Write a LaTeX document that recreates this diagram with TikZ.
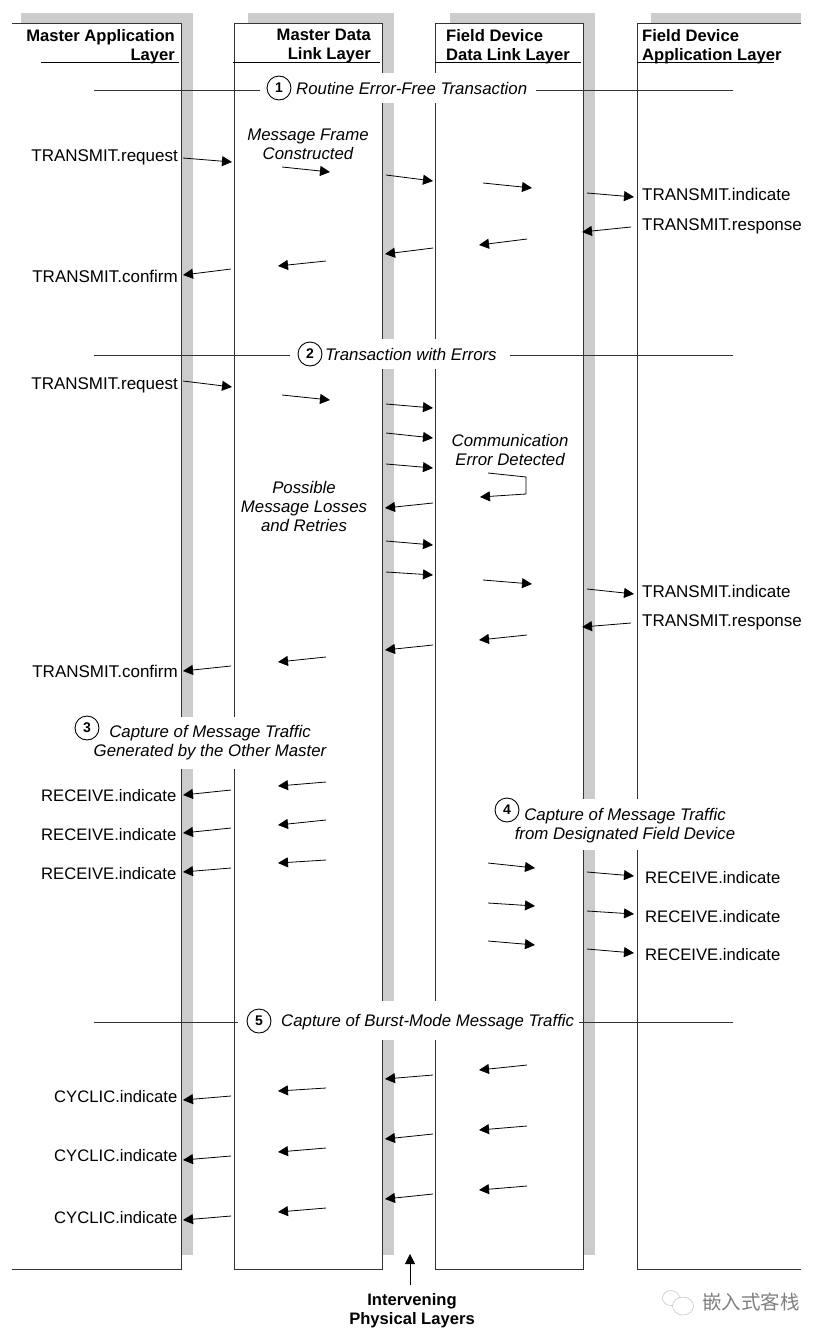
\documentclass[tikz,border=0pt]{standalone}
\usepackage{fontspec}
\setmainfont{Liberation Sans}
\newfontfamily\cjkfont{Noto Sans CJK SC}
\usetikzlibrary{arrows.meta}
\begin{document}
\begin{tikzpicture}[
  x=1pt, y=-1pt,
  band/.style={fill=black!20, draw=none},
  layerline/.style={line width=1pt, black!80},
  headline/.style={line width=1pt},
  secline/.style={line width=0.9pt, black!80},
  msg/.style={line width=0.8pt, -{Triangle[length=10pt,width=10pt]}},
  prim/.style={inner sep=0pt, text height=12pt, text depth=0pt, font=\fontsize{17}{19}\selectfont},
  primsm/.style={prim, font=\fontsize{16.65}{19}\selectfont},
  head/.style={inner sep=0pt, font=\fontsize{16.6}{19}\selectfont\bfseries},
  note/.style={inner sep=0pt, align=center, font=\fontsize{16.8}{19}\selectfont\itshape},
  num/.style={circle, draw, line width=0.9pt, fill=white, minimum size=24pt, inner sep=0pt, font=\fontsize{14}{14}\selectfont\bfseries}
]
  \useasboundingbox (0,0) rectangle (827,1338);

  % Grey bands behind the layers
  \fill[band] (21,13) rectangle (193,24);
  \fill[band] (181,24) rectangle (193,1255);
  \fill[band] (248,13) rectangle (394,24);
  \fill[band] (382,24) rectangle (394,1255);
  \fill[band] (450,13) rectangle (595,24);
  \fill[band] (583,24) rectangle (595,1255);
  \fill[band] (651,13) rectangle (801,24);

  % Layer outlines
  \draw[layerline] (12,24) -- (181,24) -- (181,1269) -- (12,1269);
  \draw[layerline] (234,1269) -- (234,24) -- (382,24) -- (382,1269) -- cycle;
  \draw[layerline] (435.5,1269) -- (435.5,24) -- (583,24) -- (583,1269) -- cycle;
  \draw[layerline] (801,24) -- (637,24) -- (637,1269) -- (801,1269);

  % Header rules
  \draw[headline] (41,63) -- (179,63);
  \draw[headline] (233,63) -- (380,63);
  \draw[headline] (435,63) -- (581,63);
  \draw[headline] (637,63) -- (774,63);

  \node[head, align=right, anchor=north east] (hma) at (175,29) {Master Application\\Layer};
  \node[head, align=right, anchor=north east] (hmd) at (371,29) {Master Data\\Link Layer};
  \node[head, align=left, anchor=north west] (hfd) at (446,29) {Field Device\\Data Link Layer};
  \node[head, align=left, anchor=north west] (hfa) at (642,29) {Field Device\\Application Layer};

  % Section rules
  \foreach \y [count=\i] in {90,355.5,1022} {
    \coordinate (sl\i) at (94,\y);
    \coordinate (sr\i) at (733,\y);
    \draw[secline] (sl\i) -- (sr\i);
  }

  % Gaps under the section titles
  \fill[white] (260,73) rectangle (536,103);
  \fill[white] (290,339) rectangle (510,369);
  \fill[white] (75,717) rectangle (330,769);
  \fill[white] (490,799) rectangle (745,850);
  \fill[white] (238,1001) rectangle (579,1040);

  % Section titles
  \node[num] (n1) at (279,88) {1};
  \node[note, anchor=west] (t1) at (296,88) {Routine Error-Free Transaction};
  \node[num] (n2) at (310,354) {2};
  \node[note, anchor=west] (t2) at (325,354) {Transaction with Errors};
  \node[num] (n3) at (87,728) {3};
  \node[note] (t3) at (210,743) {Capture of Message Traffic\\Generated by the Other Master};
  \node[num] (n4) at (507,810) {4};
  \node[note] (t4) at (625,825.5) {Capture of Message Traffic\\from Designated Field Device};
  \node[num] (n5) at (259,1021) {5};
  \node[note, anchor=west] (t5) at (281,1022) {Capture of Burst-Mode Message Traffic};

  % Remarks
  \node[note] (frame) at (308,144) {Message Frame\\Constructed};
  \node[note] (comm) at (510,450) {Communication\\Error Detected};
  \node[note] (loss) at (304,506.5) {Possible\\Message Losses\\and Retries};

  % Primitives on the left
  \foreach \y/\txt [count=\i] in {155/TRANSMIT.request, 276/TRANSMIT.confirm, 383/TRANSMIT.request, 671/TRANSMIT.confirm} {
    \node[prim, anchor=east] (lt\i) at (178,\y) {\txt};
  }
  \foreach \y [count=\i] in {795,834,873} {
    \node[primsm, anchor=east] (lr\i) at (176.5,\y) {RECEIVE.indicate};
  }
  \foreach \y [count=\i] in {1096,1155.5,1217} {
    \node[primsm, anchor=east] (lc\i) at (177.5,\y) {CYCLIC.indicate};
  }

  % Primitives on the right
  \foreach \y/\txt [count=\i] in {194.5/TRANSMIT.indicate, 224.5/TRANSMIT.response, 591/TRANSMIT.indicate, 620/TRANSMIT.response} {
    \node[prim, anchor=west] (rt\i) at (642,\y) {\txt};
  }
  \foreach \y [count=\i] in {877.5,916,954} {
    \node[primsm, anchor=west] (rr\i) at (645,\y) {RECEIVE.indicate};
  }

  % Message arrows
  \foreach \xa/\ya/\xb/\yb [count=\i] in {
    183/158/232/162, 282/167/330/172, 386/175/433/181, 483/183/532/188, 587/193/634/197,
    631/227/582/232, 527/239/479/245, 433/248/385/254, 326/261/278/266, 231/269/183/275,
    183/381/232/387, 282/395/330/400, 386/404/433/408, 386/433/433/438, 386/464/433/468,
    433/503/385/508, 386/541/433/545, 386/572/433/575, 483/580/532/584, 587/589/634/594,
    631/623/582/627, 527/635/479/640, 433/645/385/650, 326/657/278/662, 231/666/183/671,
    326/782/278/786, 326/820/278/825, 326/860/278/863, 231/790/183/795, 231/828/183/833, 231/868/183/872,
    488/863/535/868, 488/903/535/906, 488/941/535/945, 587/872/634/876, 587/911/634/914, 587/949/634/953,
    527/1065/479/1070, 433/1075/385/1079, 326/1088/278/1091, 231/1096/183/1100,
    527/1126/479/1130, 433/1134/385/1139, 326/1148/278/1152, 231/1156/183/1160,
    527/1186/479/1190, 433/1194/385/1199, 326/1208/278/1212, 231/1216/183/1220} {
    \coordinate (ma\i) at (\xa,\ya);
    \coordinate (mb\i) at (\xb,\yb);
    \draw[msg] (ma\i) -- (mb\i);
  }

  % Error loop
  \coordinate (ea) at (488,473);
  \coordinate (eb) at (526,477);
  \coordinate (ec) at (526,494);
  \coordinate (ed) at (480,497);
  \draw[msg] (ea) -- (eb) -- (ec) -- (ed);

  % Physical layers
  \node[head, align=center, anchor=north] (phys) at (412,1293) {Intervening\\Physical Layers};
  \coordinate (pa) at (410,1285);
  \coordinate (pb) at (410,1254);
  \draw[msg] (pa) -- (pb);

  % Mark in the corner
  \draw[black!25, line width=0.5pt] (671,1298) ellipse (8.5 and 7.5);
  \draw[black!25, line width=0.5pt, fill=white] (683,1306) ellipse (10.5 and 9);
  \node[inner sep=0pt, anchor=west, black!50, font=\cjkfont\fontsize{19.5}{20}\selectfont] (wm) at (702,1302) {嵌入式客栈};
\end{tikzpicture}
\end{document}
